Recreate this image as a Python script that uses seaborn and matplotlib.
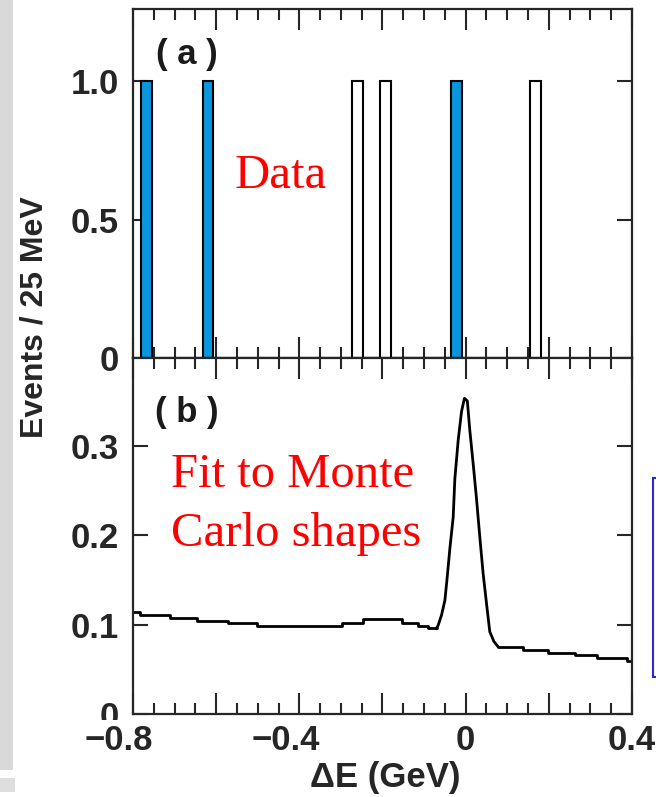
import matplotlib
matplotlib.use("Agg")
import matplotlib.pyplot as plt
import matplotlib.transforms as mtransforms
from matplotlib.patches import Rectangle
from matplotlib.ticker import MultipleLocator
import seaborn as sns

# ---------------- data ----------------
# panel (a): single events per 25 MeV bin
blue_events = [-0.768, -0.620, -0.022]
white_events = [-0.260, -0.193, 0.168]
bin_width = 0.025

# panel (b): fitted Monte Carlo shape
bkg_left_x = [-0.800, -0.783, -0.711, -0.647, -0.571, -0.503, -0.298, -0.246, -0.154, -0.114, -0.090, -0.070]
bkg_left_y = [0.1143, 0.1106, 0.1069, 0.1042, 0.1013, 0.0987, 0.1020, 0.1058, 0.1013, 0.0983, 0.0957, 0.0957]
peak_x = [-0.070, -0.066, -0.058, -0.050, -0.045, -0.038, -0.030, -0.026, -0.018, -0.010, -0.003,
          0.004, 0.010, 0.018, 0.026, 0.034, 0.042, 0.050, 0.058, 0.068, 0.078]
peak_y = [0.0957, 0.0994, 0.1106, 0.127, 0.150, 0.185, 0.220, 0.263, 0.306, 0.338, 0.353,
          0.350, 0.317, 0.280, 0.241, 0.198, 0.157, 0.124, 0.092, 0.081, 0.0752]
bkg_right_x = [0.078, 0.138, 0.198, 0.262, 0.315, 0.387, 0.400]
bkg_right_y = [0.0752, 0.0715, 0.0685, 0.0659, 0.0622, 0.0596, 0.0596]

x_ticks = [-0.8, -0.6, -0.4, -0.2, 0.0, 0.2, 0.4]
x_ticklabels = ["\u22120.8", "", "\u22120.4", "", "0", "", "0.4"]
ya_ticks = [0, 0.5, 1.0]
ya_ticklabels = ["0", "0.5", "1.0"]
yb_ticks = [0, 0.1, 0.2, 0.3]
yb_ticklabels = ["0", "0.1", "0.2", "0.3"]

# ---------------- style ----------------
sns.set_style("ticks")
plt.rcParams["font.family"] = ["Liberation Sans", "DejaVu Sans"]
BLUE = "#0a96dc"
RED = "#ff0000"
TICKFS = 25

fig = plt.figure(figsize=(6.56, 7.97), dpi=100)
fig.patch.set_facecolor("white")

L, W = 133 / 656, (632 - 133) / 656
ax1 = fig.add_axes([L, 1 - 358 / 797, W, (358 - 9.3) / 797])
ax2 = fig.add_axes([L, 1 - 714 / 797, W, (714 - 358) / 797])

# decorative page elements
fig.patches.append(Rectangle((0, 1 - 770 / 797), 13 / 656, 770 / 797, transform=fig.transFigure,
                             facecolor="#d9d9d9", edgecolor="none", zorder=0))
fig.patches.append(Rectangle((0, 1 - 792 / 797), 15 / 656, 14 / 797, transform=fig.transFigure,
                             facecolor="#dedede", edgecolor="none", zorder=0))
fig.patches.append(Rectangle((652.7 / 656, 1 - 676.7 / 797), 0.05, (676.7 - 478) / 797,
                             transform=fig.transFigure, facecolor="#fffff2", edgecolor="#2a2acc",
                             linewidth=1.5, zorder=0))


def edges(evts):
    e = []
    for v in evts:
        e += [v - bin_width / 2, v + bin_width / 2]
    return sorted(e)


# panel (a)
sns.histplot(x=blue_events, bins=edges(blue_events), color=BLUE, alpha=1, edgecolor="black",
             linewidth=1.5, ax=ax1)
sns.histplot(x=white_events, bins=edges(white_events), color="white", alpha=1, edgecolor="black",
             linewidth=1.5, ax=ax1)

# panel (b)
sns.lineplot(x=bkg_left_x, y=bkg_left_y, sort=False, estimator=None, color="black", linewidth=2,
             drawstyle="steps-post", ax=ax2)
sns.lineplot(x=peak_x, y=peak_y, sort=False, estimator=None, color="black", linewidth=2, ax=ax2)
sns.lineplot(x=bkg_right_x, y=bkg_right_y, sort=False, estimator=None, color="black", linewidth=2,
             drawstyle="steps-post", ax=ax2)

for ax in (ax1, ax2):
    ax.set_xlim(-0.8, 0.4)
    ax.set_xlabel("")
    ax.set_ylabel("")
    for s in ax.spines.values():
        s.set_linewidth(1.6)
        s.set_visible(True)
        s.set_zorder(3)
    ax.xaxis.set_minor_locator(MultipleLocator(0.05))
    ax.tick_params(axis="x", which="major", direction="in", length=15, width=1.5,
                   top=True, bottom=True, pad=7)
    ax.tick_params(axis="x", which="minor", direction="in", length=8, width=1.5,
                   top=True, bottom=True)
    ax.tick_params(axis="y", which="major", direction="in", length=11, width=1.5,
                   left=True, right=True, pad=10)
    ax.tick_params(axis="y", which="minor", left=False, right=False)

ax1.set_ylim(0, 1.259)
ax2.set_ylim(0, 0.398)

ax1.set_xticks(x_ticks, [""] * len(x_ticks))
ax1.tick_params(axis="x", labelbottom=False)
ax1.set_yticks(ya_ticks, ya_ticklabels)
ax2.set_yticks(yb_ticks, yb_ticklabels)
ax2.set_xticks(x_ticks, x_ticklabels)

for ax in (ax1, ax2):
    for lab in ax.get_yticklabels():
        lab.set_fontsize(TICKFS)
        lab.set_fontweight("bold")

shift = mtransforms.ScaledTranslation(-10 / 72, 0, fig.dpi_scale_trans)
for lab in ax2.get_xticklabels():
    lab.set_fontsize(TICKFS)
    lab.set_fontweight("bold")
    lab.set_bbox(dict(facecolor="white", edgecolor="none", pad=3))
    if lab.get_text().startswith("\u2212"):
        lab.set_transform(lab.get_transform() + shift)
ax2.xaxis.set_zorder(2.7)

# panel tags and annotations
ax1.text(-0.67, 1.094, "( a )", ha="center", va="center", fontsize=25, fontweight="bold", color="#1a1a1a")
ax2.text(-0.67, 0.3375, "( b )", ha="center", va="center", fontsize=25, fontweight="bold", color="#1a1a1a")
ax1.text(-0.555, 0.614, "Data", color=RED, fontsize=35, family="Liberation Serif", ha="left", va="baseline")
ax2.text(-0.709, 0.2533, "Fit to Monte", color=RED, fontsize=35, family="Liberation Serif",
         ha="left", va="baseline")
ax2.text(-0.709, 0.188, "Carlo shapes", color=RED, fontsize=35, family="Liberation Serif",
         ha="left", va="baseline")

fig.text(35 / 656, 1 - 317 / 797, "Events / 25 MeV", rotation=90, ha="center", va="center",
         fontsize=23, fontweight="bold")
fig.text(385 / 656, 1 - 777 / 797, "\u0394E (GeV)", ha="center", va="center",
         fontsize=25, fontweight="bold")

fig.savefig("out.png", dpi=100)
